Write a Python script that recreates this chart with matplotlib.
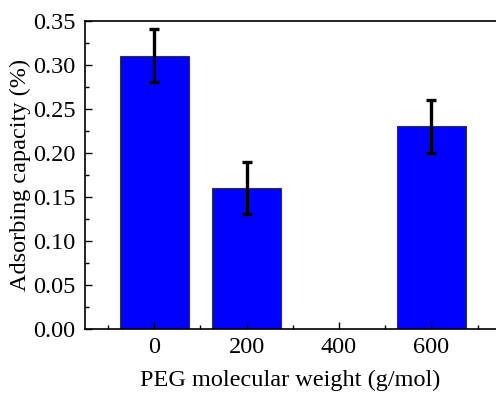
import matplotlib
matplotlib.use("Agg")
import matplotlib.pyplot as plt
from matplotlib.ticker import MultipleLocator

peg_mw = [0, 200, 600]
capacity = [0.31, 0.16, 0.23]
errors = [0.03, 0.03, 0.03]

plt.rcParams['font.family'] = ['Liberation Serif', 'DejaVu Serif']

fig = plt.figure(figsize=(4.96, 3.96), dpi=100)
ax = fig.add_axes([0.1714, 0.169, 0.8286, 0.779])

ax.bar(peg_mw, capacity, width=150, color='#0000ff', edgecolor='#333333', linewidth=0.8)
ax.errorbar(peg_mw, capacity, yerr=errors, fmt='none', ecolor='black',
            elinewidth=2.4, capsize=3.4, capthick=2.4)

ax.set_xlim(-150, 740)
ax.set_ylim(0, 0.35)
ax.set_xticks([0, 200, 400, 600])
ax.xaxis.set_minor_locator(MultipleLocator(100))
ax.yaxis.set_major_locator(MultipleLocator(0.05))
ax.yaxis.set_minor_locator(MultipleLocator(0.025))
ax.yaxis.set_major_formatter(plt.FormatStrFormatter('%.2f'))
ax.spines['right'].set_visible(False)
for s in ['left', 'bottom', 'top']:
    ax.spines[s].set_linewidth(1.2)
ax.tick_params(which='both', direction='in', labelsize=17.5, top=False, right=False, width=1.0)
ax.tick_params(which='major', length=5)
ax.tick_params(which='minor', length=3)
ax.tick_params(axis='x', pad=6)
ax.tick_params(axis='y', pad=7)

ax.set_xlabel('PEG molecular weight (g/mol)', fontsize=17.5, va='center')
ax.set_ylabel('Adsorbing capacity (%)', fontsize=17.5, va='center')
ax.xaxis.set_label_coords(0.5, -0.168)
ax.yaxis.set_label_coords(-0.157, 0.5)

fig.savefig('out.png', dpi=100)
